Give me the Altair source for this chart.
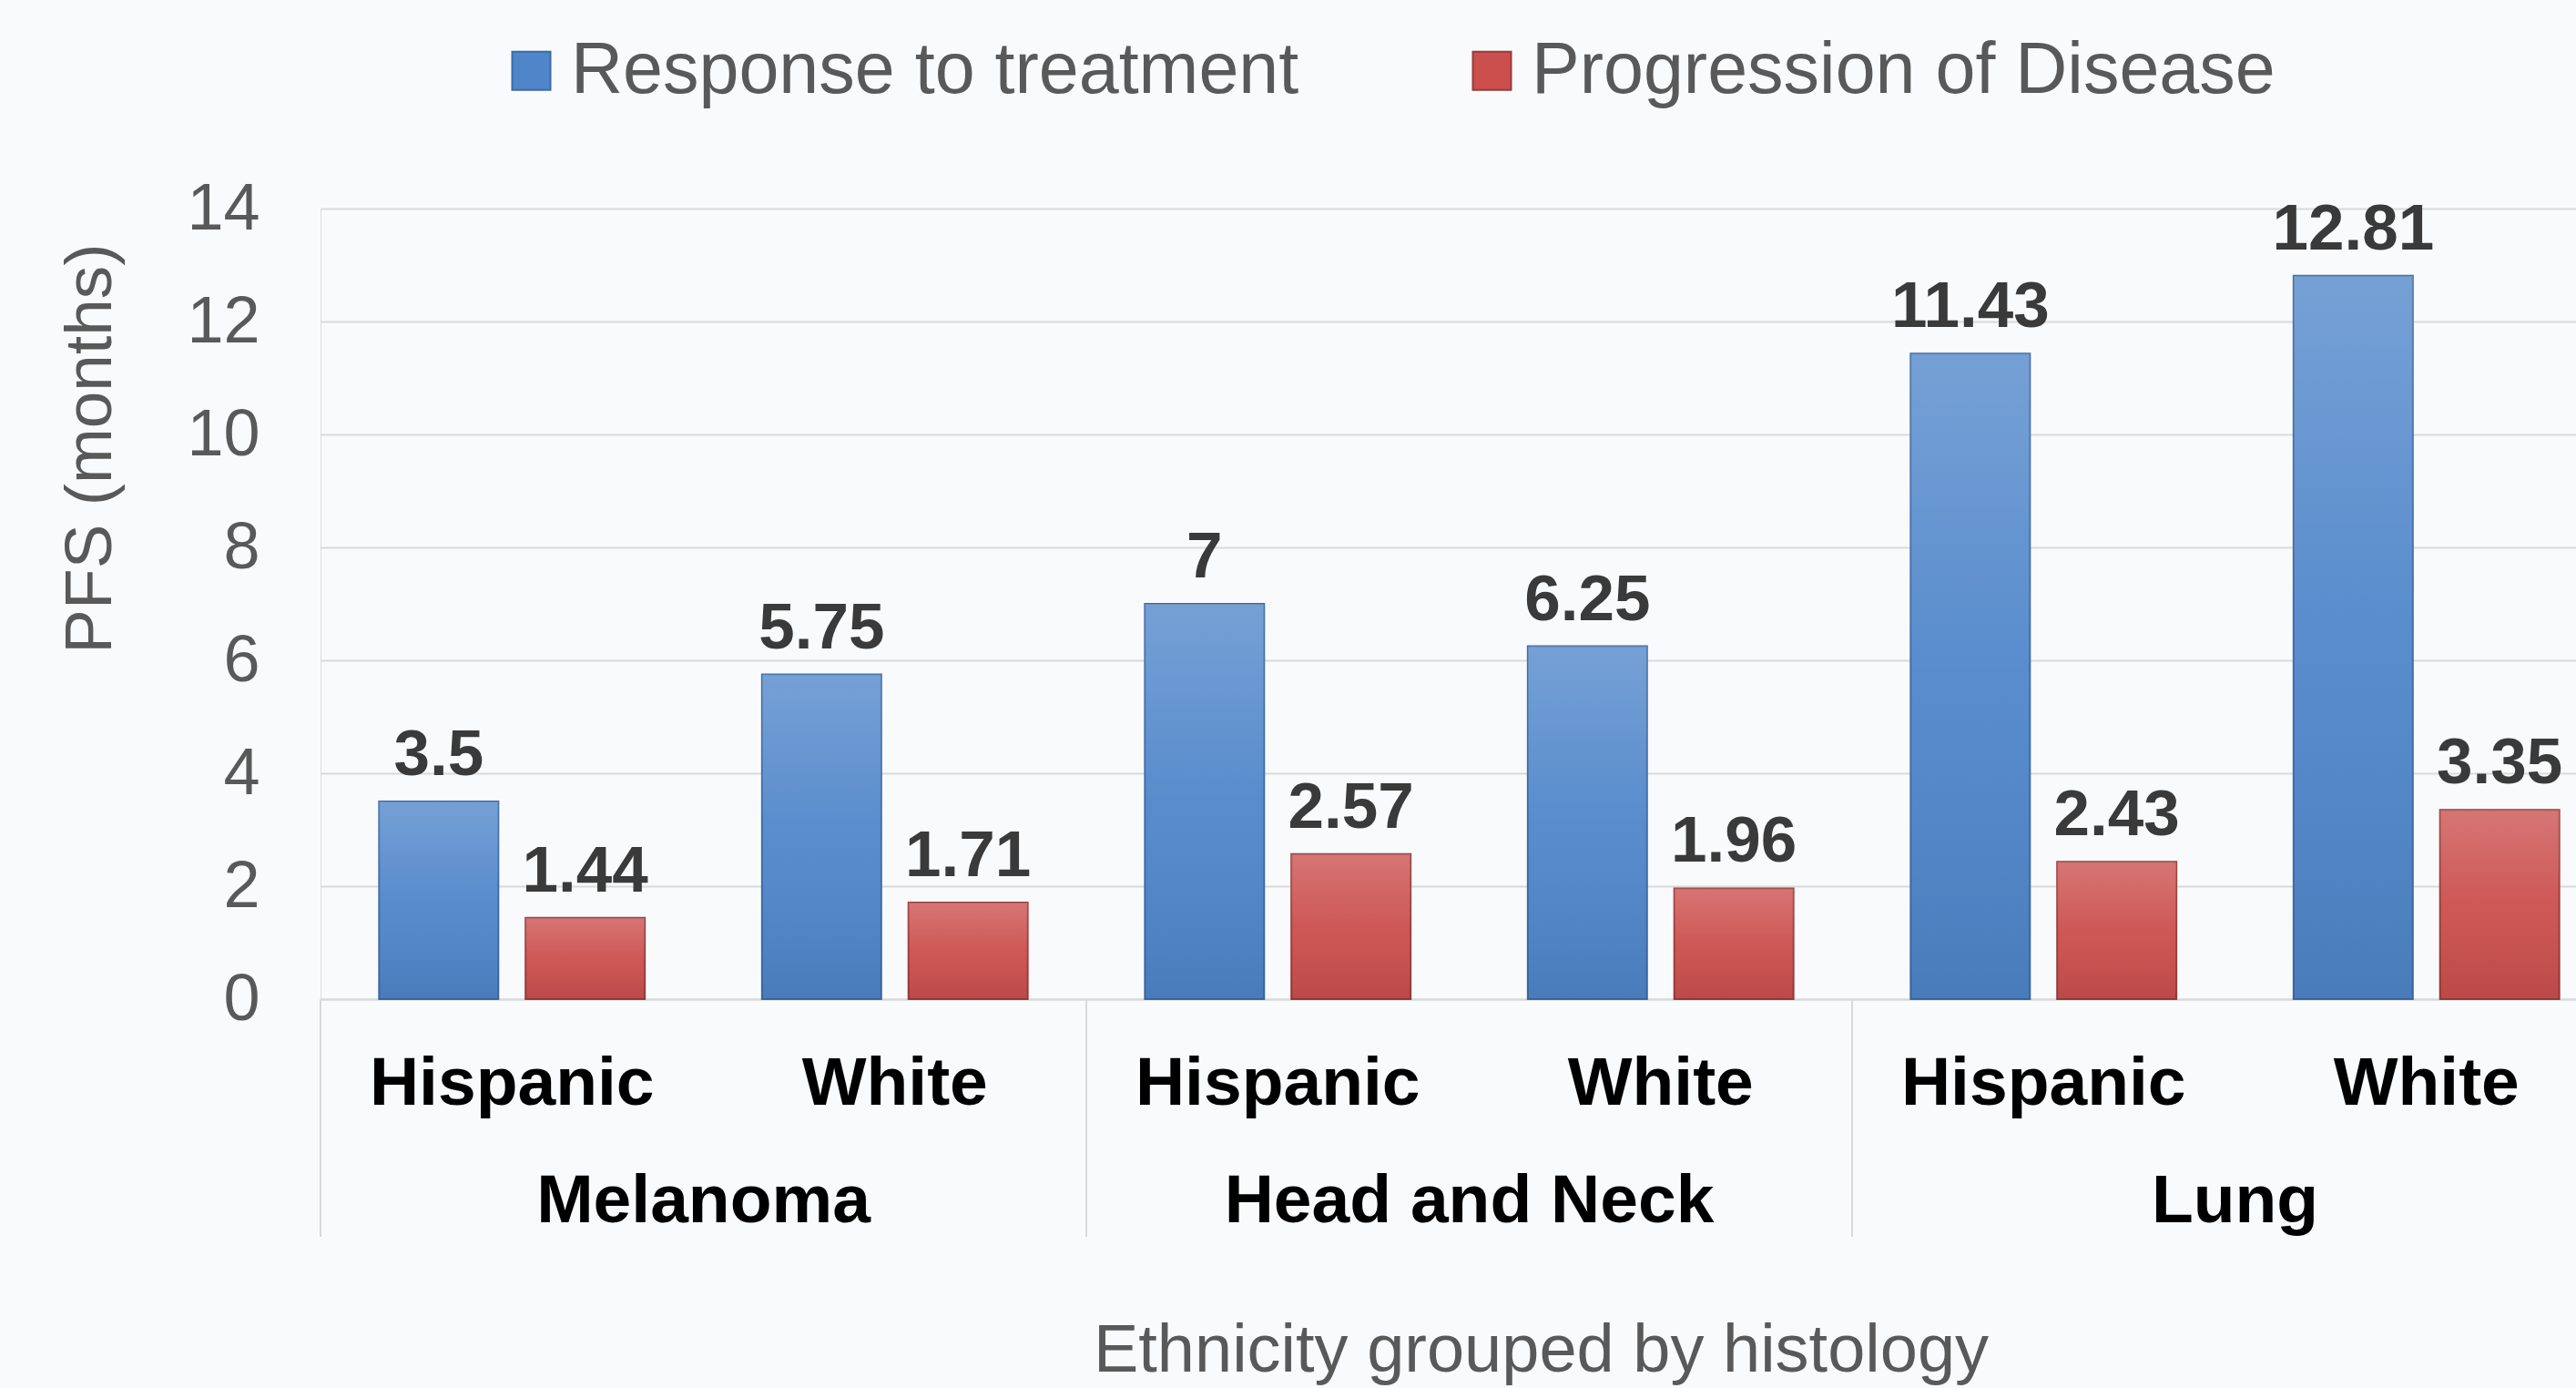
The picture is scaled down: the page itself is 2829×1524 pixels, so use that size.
import altair as alt
import pandas as pd

histology = ["Melanoma", "Head and Neck", "Lung"]
ethnicity = ["Hispanic", "White"]
series = ["Response to treatment", "Progression of Disease"]
response = [3.5, 5.75, 7, 6.25, 11.43, 12.81]
progression = [1.44, 1.71, 2.57, 1.96, 2.43, 3.35]
y_ticks = [0, 2, 4, 6, 8, 10, 12, 14]

rows = []
keys = []
for i, h in enumerate(histology):
    for j, e in enumerate(ethnicity):
        k = f"{h}|{e}"
        keys.append(k)
        idx = i * 2 + j
        rows.append(dict(key=k, hist=h, eth=e, series=series[0], value=response[idx]))
        rows.append(dict(key=k, hist=h, eth=e, series=series[1], value=progression[idx]))
df = pd.DataFrame(rows)

grp = pd.DataFrame({"hist": histology,
                    "start": [f"{h}|{ethnicity[0]}" for h in histology],
                    "mid": [f"{h}|{ethnicity[1]}" for h in histology]})

W, H = 2477, 868
FULL = 2523
FONT = "Liberation Sans"

xscale = alt.Scale(domain=keys, range=[0, FULL], paddingInner=0, paddingOuter=0)
xaxis = alt.Axis(
    labelExpr="split(datum.label, '|')[1]",
    labelFontSize=75, labelFontWeight="bold", labelColor="#000000",
    labelBaseline="alphabetic", labelPadding=115, labelAngle=0, labelLimit=0,
    ticks=False, tickSize=0, grid=False,
    domain=True, domainColor="#d9d9d9", domainWidth=2,
    title="Ethnicity grouped by histology", titleFontSize=74, titleFontWeight="normal",
    titleColor="#595959", titleX=1340, titleY=408, titleBaseline="alphabetic",
    titleAlign="center",
)
X = alt.X("key:N", sort=keys, scale=xscale, axis=xaxis)
XO = alt.XOffset("series:N", sort=series,
                 scale=alt.Scale(domain=series, paddingInner=0.186, paddingOuter=0.4))
Y = alt.Y("value:Q", scale=alt.Scale(domain=[0, 14], nice=False),
          axis=alt.Axis(values=y_ticks, labelFontSize=72, labelColor="#595959",
                        labelPadding=67, ticks=False, domain=False,
                        grid=True, gridColor="#d9d9d9", gridWidth=2,
                        title="PFS (months)", titleFontSize=73, titleFontWeight="normal",
                        titleColor="#595959", titleX=-253, titleY=263,
                        titleAlign="center", titleBaseline="middle"))

base = alt.Chart(df)

bars = base.mark_bar(strokeWidth=2).encode(
    x=X, xOffset=XO, y=Y,
    color=alt.Color("series:N", sort=series,
                    scale=alt.Scale(domain=series, range=["#4f86ca", "#cb4f4d"]),
                    legend=alt.Legend(title=None, orient="none", legendX=192, legendY=-191,
                                      direction="horizontal", symbolType="square",
                                      symbolSize=1764, labelFontSize=79, labelFont=FONT,
                                      labelColor="#595959", labelOffset=4,
                                      columnPadding=172, labelLimit=0, padding=0,
                                      symbolStrokeWidth=2)),
    stroke=alt.Stroke("series:N", sort=series,
                      scale=alt.Scale(domain=series, range=["#3b6aa6", "#993b39"]),
                      legend=None),
)

shade = base.mark_bar(
    color=alt.LinearGradient(
        gradient="linear", x1=0, y1=0, x2=0, y2=1,
        stops=[alt.GradientStop(offset=0, color="rgba(255,255,255,0.22)"),
               alt.GradientStop(offset=0.5, color="rgba(255,255,255,0.05)"),
               alt.GradientStop(offset=1, color="rgba(0,0,0,0.08)")]),
).encode(x=X, xOffset=XO, y=Y)

labels = base.mark_text(font=FONT, fontSize=71, fontWeight="bold", color="#3a3a3a",
                        baseline="alphabetic", dy=-29).encode(
    x=X, xOffset=XO, y=Y, text=alt.Text("value:Q", format=".4~g"))

seps = alt.Chart(grp).mark_rule(color="#d9d9d9", strokeWidth=2).encode(
    x=alt.X("start:N", sort=keys, scale=xscale, axis=xaxis, bandPosition=0),
    y=alt.value(H), y2=alt.value(1129))

groups = alt.Chart(grp).mark_text(font=FONT, fontSize=75, fontWeight="bold",
                                  color="#000000", baseline="alphabetic").encode(
    x=alt.X("mid:N", sort=keys, scale=xscale, axis=xaxis, bandPosition=0),
    y=alt.value(1113), text="hist:N")

chart = alt.layer(bars, shade, labels, seps, groups).properties(
    width=W, height=H,
    padding={"left": 352, "top": 229, "right": 0, "bottom": 427},
    autosize="none",
    background="#f9fafc",
).configure_view(stroke=None).configure(font=FONT)

chart.save("out.html", embed_options={"renderer": "svg", "actions": False})
